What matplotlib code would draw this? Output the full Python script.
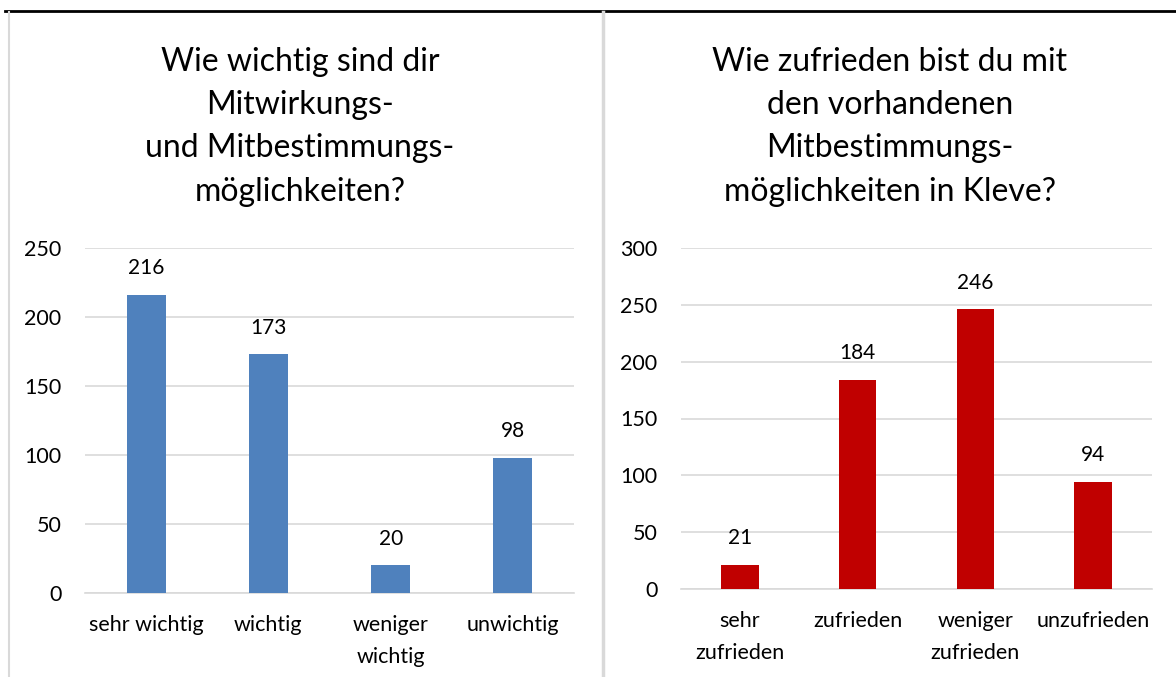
import matplotlib.pyplot as plt
from matplotlib.lines import Line2D

plt.rcParams["font.family"] = ["Lato", "DejaVu Sans"]

left_title = "Wie wichtig sind dir\nMitwirkungs-\nund Mitbestimmungs-\nmöglichkeiten?"
left_labels = ["sehr wichtig", "wichtig", "weniger\nwichtig", "unwichtig"]
left_values = [216, 173, 20, 98]
left_ticks = [0, 50, 100, 150, 200, 250]

right_title = "Wie zufrieden bist du mit\nden vorhandenen\nMitbestimmungs-\nmöglichkeiten in Kleve?"
right_labels = ["sehr\nzufrieden", "zufrieden", "weniger\nzufrieden", "unzufrieden"]
right_values = [21, 184, 246, 94]
right_ticks = [0, 50, 100, 150, 200, 250, 300]

W, H = 1176, 677
fig = plt.figure(figsize=(W / 100, H / 100), dpi=100)


def draw(rect, labels, values, ticks, color, title, title_x):
    ax = fig.add_axes(rect)
    xs = range(len(values))
    ax.bar(xs, values, width=0.32, color=color, zorder=3)
    for x, v in zip(xs, values):
        ax.annotate(str(v), (x, v), xytext=(0, 12), textcoords="offset points",
                    ha="center", va="bottom", fontsize=15, color="#000000")
    ax.set_xlim(-0.5, len(values) - 0.5)
    ax.set_ylim(0, ticks[-1])
    ax.set_yticks(ticks)
    ax.set_xticks(list(xs))
    ax.set_xticklabels(labels, linespacing=1.75, va="top")
    ax.tick_params(axis="both", length=0, labelsize=15.5, colors="#000000")
    ax.tick_params(axis="y", pad=17)
    ax.tick_params(axis="x", pad=16)
    ax.grid(axis="y", color="#d9d9d9", linewidth=1.2, zorder=0)
    for s in ["top", "right", "left"]:
        ax.spines[s].set_visible(False)
    ax.spines["bottom"].set_color("#d9d9d9")
    ax.spines["bottom"].set_linewidth(1.2)
    fig.text(title_x, 1 - 47 / H, title, ha="center", va="top", fontsize=23,
             linespacing=1.55)
    return ax


draw([85 / W, 1 - 593 / H, 489 / W, 345 / H], left_labels, left_values,
     left_ticks, "#4f81bd", left_title, 300 / W)
draw([681 / W, 1 - 589 / H, 471 / W, 341 / H], right_labels, right_values,
     right_ticks, "#c00000", right_title, 890 / W)

# page border lines
fig.add_artist(Line2D([5 / W, 1], [1 - 11 / H, 1 - 11 / H], color="black", linewidth=2))
fig.add_artist(Line2D([9 / W, 9 / W], [0, 1 - 12 / H], color="#d9d9d9", linewidth=1.5))
fig.add_artist(Line2D([603 / W, 603 / W], [0, 1 - 12 / H], color="#d9d9d9", linewidth=2.5))

fig.savefig("out.png", dpi=100)
